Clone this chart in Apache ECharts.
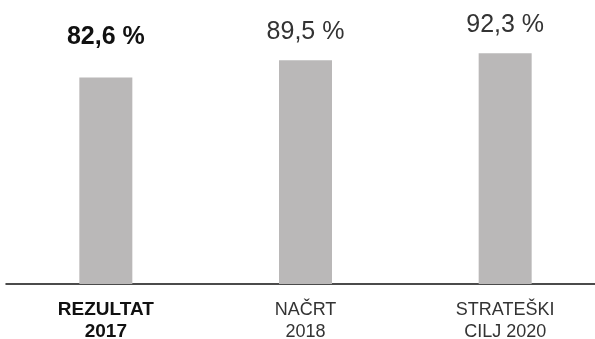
<!DOCTYPE html>
<html>
<head>
<meta charset="utf-8">
<script src="https://cdn.jsdelivr.net/npm/echarts@6/dist/echarts.min.js"></script>
<style>html,body{margin:0;padding:0;background:#fff}#c{width:595px;height:339px}</style>
</head>
<body>
<div id="c"></div>
<script>
const categories = ['REZULTAT\n2017', 'NAČRT\n2018', 'STRATEŠKI\nCILJ 2020'];
const values = [82.6, 89.5, 92.3];
const highlightIndex = 0;

const FONT = '"Liberation Sans", Arial, Helvetica, sans-serif';
const fmt = v => String(v).replace('.', ',') + ' %';

const chart = echarts.init(document.getElementById('c'), null, { renderer: 'canvas' });
chart.setOption({
  animation: false,
  backgroundColor: '#ffffff',
  grid: { left: 6, width: 599, top: 34, bottom: 55, containLabel: false, outerBoundsMode: 'none' },
  xAxis: {
    type: 'category',
    data: categories,
    axisLine: { show: true, lineStyle: { color: '#111', width: 1.5 } },
    axisTick: { show: false },
    axisLabel: {
      margin: 15,
      interval: 0,
      fontFamily: FONT,
      fontSize: 18,
      lineHeight: 22,
      color: '#333',
      formatter: (val, idx) => idx === highlightIndex
        ? val.split('\n').map(s => '{b|' + s + '}').join('\n')
        : val,
      rich: { b: { fontFamily: FONT, fontSize: 19, lineHeight: 22, fontWeight: 'bold', color: '#111' } }
    }
  },
  yAxis: {
    type: 'value', min: 0, max: 100,
    show: false,
    splitLine: { show: false }
  },
  series: [{
    type: 'bar',
    barWidth: 53,
    itemStyle: { color: '#bab8b8' },
    label: {
      show: true,
      position: 'top',
      distance: 16,
      fontFamily: FONT,
      fontSize: 25,
      color: '#333',
      formatter: p => fmt(p.value)
    },
    data: values.map((v, i) => i === highlightIndex
      ? { value: v, label: { fontWeight: 'bold', color: '#111', distance: 28 } }
      : v)
  }]
});
</script>
</body>
</html>
